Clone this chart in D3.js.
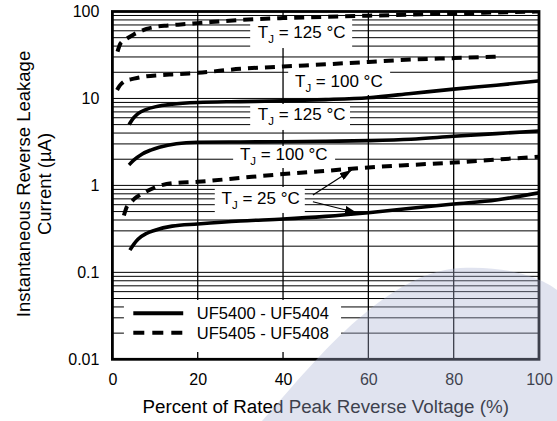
<!DOCTYPE html>
<html>
<head>
<meta charset="utf-8">
<script src="https://cdn.jsdelivr.net/npm/d3@7"></script>
<style>
body { margin: 0; background: #fff; }
svg { font-family: "Liberation Sans", Arial, Helvetica, sans-serif; }
</style>
</head>
<body>
<script>
// reverse leakage vs percent of rated voltage
var pctDash125 = [1.2, 1.8, 2.6, 3.6, 5, 6.5, 8, 10, 13, 16, 20, 30, 40, 50, 60, 70, 80, 90, 100];
var valDash125 = [34.5, 42, 46, 49.5, 54.5, 59, 63, 66.5, 69, 71, 73.5, 80, 84, 87, 89.5, 92, 95, 97.5, 100];

var pctDash100 = [1.1, 1.6, 2.2, 3, 4.5, 6, 8, 11, 14, 18, 20, 30, 40, 50, 60, 70, 80, 90];
var valDash100 = [12.5, 13.8, 14.9, 15.9, 16.7, 17.3, 18.0, 18.5, 18.9, 19.4, 19.7, 21.9, 23.3, 24.7, 26.3, 28.0, 29.1, 30.2];

var pctSolid125 = [3.9, 5, 6, 8, 10, 14, 20, 30, 40, 50, 60, 70, 80, 90, 100];
var valSolid125 = [5.0, 6.0, 6.7, 7.5, 8.0, 8.6, 9.0, 9.2, 9.4, 9.7, 10.2, 11.4, 12.8, 14.2, 15.9];

var pctSolid100 = [3.9, 5, 7, 9, 11, 15, 20, 30, 40, 50, 60, 70, 80, 90, 100];
var valSolid100 = [1.72, 1.95, 2.3, 2.55, 2.75, 3.02, 3.13, 3.16, 3.18, 3.22, 3.27, 3.39, 3.67, 3.94, 4.22];

var pctDash25 = [2.7, 3.4, 4, 5.3, 7, 10, 14, 20, 30, 40, 50, 60, 70, 80, 90, 100];
var valDash25 = [0.45, 0.57, 0.61, 0.71, 0.80, 0.95, 1.06, 1.10, 1.22, 1.35, 1.47, 1.61, 1.72, 1.83, 1.98, 2.14];

var pctSolid25 = [4.1, 5, 6, 8, 10, 14, 20, 30, 40, 50, 60, 70, 80, 90, 100];
var valSolid25 = [0.18, 0.21, 0.24, 0.28, 0.305, 0.34, 0.36, 0.39, 0.41, 0.44, 0.485, 0.545, 0.61, 0.68, 0.82];

var yTicks = [0.01, 0.1, 1, 10, 100];
var yTickText = ["0.01", "0.1", "1", "10", "100"];
var xTicks = [0, 20, 40, 60, 80, 100];
var legendNames = ["UF5400 - UF5404", "UF5405 - UF5408"];

window.onload = drawChart();

function drawChart(){
    var width = 557, height = 421;
    var font = "'Liberation Sans', Arial, Helvetica, sans-serif";

    var svg = d3.select("body").append("svg")
        .attr("width", width)
        .attr("height", height);

    var x = d3.scaleLinear().domain([0, 100]).range([112.4, 539]);
    var y = d3.scaleLog().domain([0.01, 100]).range([359.3, 11.5]);

    //log paper grid
    svg.append("g").selectAll("line")
        .data(y.ticks())
        .enter().append("line")
        .attr("x1", x(0)).attr("x2", x(100))
        .attr("y1", function(d){ return y(d); })
        .attr("y2", function(d){ return y(d); })
        .attr("stroke", "#000")
        .attr("stroke-width", 1);

    svg.append("g").selectAll("line")
        .data(xTicks.slice(1, -1))
        .enter().append("line")
        .attr("x1", function(d){ return x(d); })
        .attr("x2", function(d){ return x(d); })
        .attr("y1", y(100)).attr("y2", y(0.01))
        .attr("stroke", "#000")
        .attr("stroke-width", 1.3);

    //white boxes behind the annotations (box: x0, x1 in %, top, bottom in uA)
    var notes = [
        {t: "125", tx: 34.1, tv: 49.2, box: [32.3, 56.2, 82, 38]},
        {t: "100", tx: 42.8, tv: 13.65, box: [41.2, 65.1, 24.9, 10.96]},
        {t: "125", tx: 34.1, tv: 5.65, box: [32.3, 55.7, 8.63, 4.34]},
        {t: "100", tx: 29.9, tv: 1.96, box: [28.3, 52.2, 2.84, 1.585]},
        {t: "25", tx: 25.6, tv: 0.611, box: [24.0, 45.1, 0.959, 0.482]}
    ];

    svg.append("g").selectAll("rect")
        .data(notes)
        .enter().append("rect")
        .attr("x", function(d){ return x(d.box[0]); })
        .attr("y", function(d){ return y(d.box[2]); })
        .attr("width", function(d){ return x(d.box[1]) - x(d.box[0]); })
        .attr("height", function(d){ return y(d.box[3]) - y(d.box[2]); })
        .attr("fill", "#fff");

    //legend box
    svg.append("rect")
        .attr("x", x(2.7)).attr("y", y(0.0481))
        .attr("width", x(53.6) - x(2.7))
        .attr("height", y(0.01213) - y(0.0481))
        .attr("fill", "#fff");

    var line = d3.line()
        .x(function(d){ return x(d[0]); })
        .y(function(d){ return y(d[1]); })
        .curve(d3.curveMonotoneX);

    var series = [
        [pctSolid125, valSolid125, false],
        [pctSolid100, valSolid100, false],
        [pctSolid25, valSolid25, false],
        [pctDash125, valDash125, true],
        [pctDash100, valDash100, true],
        [pctDash25, valDash25, true]
    ];

    svg.append("defs").append("clipPath").attr("id", "plotclip")
        .append("rect")
        .attr("x", x(0)).attr("y", y(100))
        .attr("width", x(100) - x(0)).attr("height", y(0.01) - y(100));

    svg.append("g").attr("clip-path", "url(#plotclip)")
        .selectAll("path")
        .data(series)
        .enter().append("path")
        .attr("d", function(s){ return line(d3.zip(s[0], s[1])); })
        .attr("fill", "none")
        .attr("stroke", "#000")
        .attr("stroke-width", function(s){ return s[2] ? 4 : 3.6; })
        .attr("stroke-dasharray", function(s){ return s[2] ? "10,7" : null; });

    //temperature labels
    var lab = svg.append("g").selectAll("text")
        .data(notes)
        .enter().append("text")
        .attr("x", function(d){ return x(d.tx); })
        .attr("y", function(d){ return y(d.tv); })
        .attr("font-size", 17)
        .attr("fill", "#000");
    lab.append("tspan").text("T");
    lab.append("tspan").attr("font-size", 11.5).attr("dy", 5).text("J");
    lab.append("tspan").attr("dy", -5).text(function(d){ return " = " + d.t + " \u00B0C"; });

    //arrows from the 25 C label
    var defs = svg.select("defs");
    defs.append("marker")
        .attr("id", "arr")
        .attr("viewBox", "0 0 12 8")
        .attr("refX", 12).attr("refY", 4)
        .attr("markerWidth", 12).attr("markerHeight", 8)
        .attr("markerUnits", "userSpaceOnUse")
        .attr("orient", "auto")
        .append("path").attr("d", "M0,0 L12,4 L0,8 Z").attr("fill", "#000");

    var arrows = [[47.0, 0.776, 56.1, 1.50], [47.0, 0.649, 57.3, 0.485]];
    svg.append("g").selectAll("line")
        .data(arrows)
        .enter().append("line")
        .attr("x1", function(d){ return x(d[0]); })
        .attr("y1", function(d){ return y(d[1]); })
        .attr("x2", function(d){ return x(d[2]); })
        .attr("y2", function(d){ return y(d[3]); })
        .attr("stroke", "#000")
        .attr("stroke-width", 1.2)
        .attr("marker-end", "url(#arr)");

    //legend
    var leg = svg.append("g").selectAll("g")
        .data(legendNames)
        .enter().append("g");
    leg.append("line")
        .attr("x1", x(4.9)).attr("x2", x(16.6))
        .attr("y1", function(d, i){ return y(i == 0 ? 0.0338 : 0.0202); })
        .attr("y2", function(d, i){ return y(i == 0 ? 0.0338 : 0.0202); })
        .attr("stroke", "#000")
        .attr("stroke-width", 4)
        .attr("stroke-dasharray", function(d, i){ return i == 0 ? null : "11,8"; });
    leg.append("text")
        .attr("x", x(19.8))
        .attr("y", function(d, i){ return y(i == 0 ? 0.0338 : 0.0202); })
        .attr("dy", "0.35em")
        .attr("font-size", 16.5)
        .text(function(d){ return d; });

    //frame
    svg.append("rect")
        .attr("x", x(0)).attr("y", y(100))
        .attr("width", x(100) - x(0)).attr("height", y(0.01) - y(100))
        .attr("fill", "none")
        .attr("stroke", "#000")
        .attr("stroke-width", 2.8);

    //axes
    var yAxis = d3.axisLeft(y)
        .tickValues(yTicks)
        .tickSize(0)
        .tickPadding(13)
        .tickFormat(function(d, i){ return yTickText[i]; });
    var gy = svg.append("g").attr("transform", "translate(" + x(0) + ",0)").call(yAxis);
    gy.select(".domain").remove();
    gy.attr("font-family", font).attr("font-size", 16);
    gy.selectAll("text").attr("fill", "#000");

    var xAxis = d3.axisBottom(x)
        .tickValues(xTicks)
        .tickSize(0)
        .tickPadding(14);
    var gx = svg.append("g").attr("transform", "translate(0," + y(0.01) + ")").call(xAxis);
    gx.select(".domain").remove();
    gx.attr("font-family", font).attr("font-size", 16);
    gx.selectAll("text").attr("fill", "#000");

    svg.append("text")
        .attr("x", (x(0) + x(100)) / 2)
        .attr("y", 413)
        .attr("text-anchor", "middle")
        .attr("font-size", 18.8)
        .text("Percent of Rated Peak Reverse Voltage (%)");

    var yt = svg.append("text")
        .attr("transform", "translate(0,184) rotate(-90)")
        .attr("text-anchor", "middle")
        .attr("font-size", 18.5);
    yt.append("tspan").attr("x", 0).attr("y", 30).text("Instantaneous Reverse Leakage");
    yt.append("tspan").attr("x", 0).attr("y", 51).text("Current (\u00B5A)");

    //faint logo sitting over the lower right corner
    svg.append("path")
        .attr("d", "M262,421 C300,380 380,272 460,268 C515,265 548,282 557,290 L557,421 Z")
        .attr("fill", "#aab2d2")
        .attr("opacity", 0.36);
}
</script>
</body>
</html>
